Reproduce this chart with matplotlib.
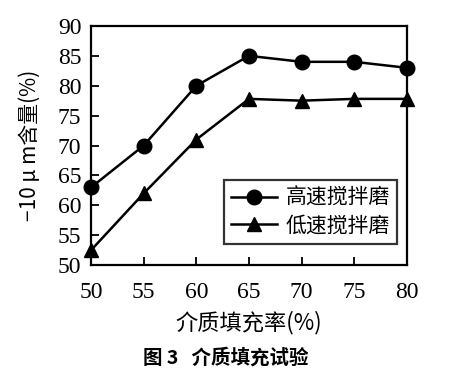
import numpy as np
import matplotlib
matplotlib.use("Agg")
import matplotlib.pyplot as plt

plt.rcParams['font.family'] = ['Liberation Serif', 'Noto Sans CJK SC', 'DejaVu Sans']

# fill rate (%) and -10um content (%)
fill_rate = [50, 55, 60, 65, 70, 75, 80]
high_speed = [63, 70, 80, 85, 84, 84, 83]
low_speed = [52.5, 62, 71, 77.8, 77.5, 77.8, 77.8]
labels = ['高速搅拌磨', '低速搅拌磨']
xticks = [50, 55, 60, 65, 70, 75, 80]
yticks = [50, 55, 60, 65, 70, 75, 80, 85, 90]

fig = plt.figure(figsize=(4.51, 3.76), dpi=100)
ax = fig.add_axes([0.202, 0.295, 0.700, 0.636])

ax.plot(fill_rate, high_speed, color='black', lw=1.8, marker='o', ms=10.5,
        label=labels[0], clip_on=False, zorder=3)
ax.plot(fill_rate, low_speed, color='black', lw=1.8, marker='^', ms=10.5,
        label=labels[1], clip_on=False, zorder=3)

ax.set_xlim(50, 80)
ax.set_ylim(50, 90)
ax.set_xticks(xticks)
ax.set_yticks(yticks)
ax.tick_params(direction='in', length=6, width=1.3, labelsize=17, pad=7)
ax.tick_params(axis='x', pad=12)
for s in ax.spines.values():
    s.set_linewidth(1.6)

cjk = ['Noto Sans CJK SC', 'DejaVu Sans']
ax.set_xlabel('介质填充率(%)', fontsize=16, family=cjk, labelpad=6)
ax.set_ylabel('−10 μ m含量(%)', fontsize=15, family=cjk, labelpad=12)

leg = ax.legend(loc='lower right', bbox_to_anchor=(0.97, 0.09),
                prop={'family': cjk, 'size': 15}, frameon=True, fancybox=False,
                edgecolor='black', handlelength=2.2, borderpad=0.35,
                labelspacing=0.25, handletextpad=0.4, borderaxespad=0)
leg.get_frame().set_linewidth(1.6)

fig.text(0.5, 0.048, '图 3   介质填充试验', ha='center', va='center',
         fontsize=14, fontweight='bold', family=cjk)

fig.savefig('out.png', dpi=100)
